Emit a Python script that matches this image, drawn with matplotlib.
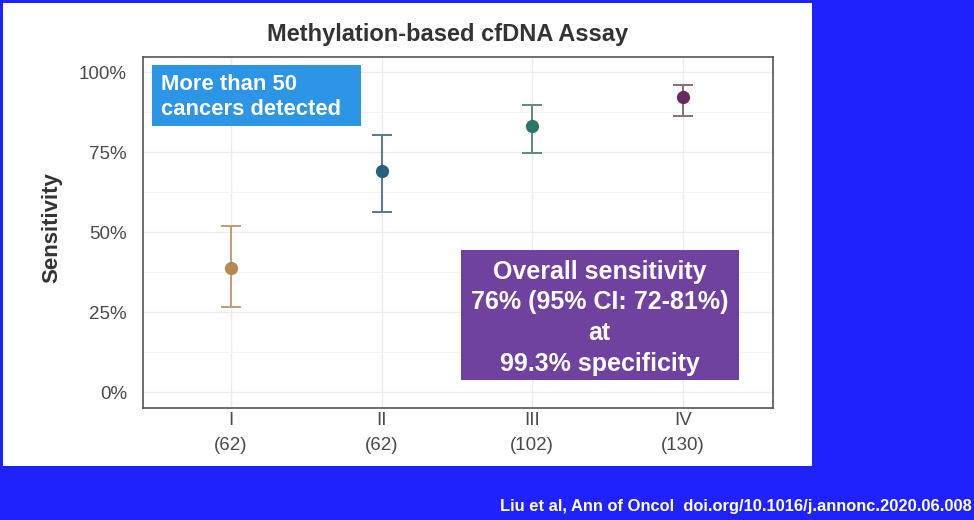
import matplotlib.pyplot as plt
from matplotlib.patches import Rectangle
from matplotlib.ticker import MultipleLocator, FuncFormatter

plt.rcParams['font.family'] = ['Liberation Sans', 'DejaVu Sans']

# stage sensitivity (%) with 95% CI
stages = ['I', 'II', 'III', 'IV']
n_cases = [62, 62, 102, 130]
sensitivity = [38.8, 69.1, 83.1, 92.2]
ci_low = [26.6, 56.3, 74.7, 86.3]
ci_high = [51.9, 80.3, 89.7, 95.9]
point_colors = ['#b5884f', '#27607e', '#28776a', '#672a5f']
bar_colors = ['#c39c74', '#56798c', '#5e8a82', '#866c80']

SLIDE_BLUE = '#1f22fa'


def main():
    fig = plt.figure(figsize=(9.74, 5.2), dpi=100)
    fig.patch.set_facecolor(SLIDE_BLUE)
    # white slide area
    fig.patches.append(Rectangle((3 / 974, 1 - 466 / 520), 809 / 974, 463 / 520,
                                 transform=fig.transFigure, facecolor='white',
                                 edgecolor='none', zorder=-10))

    ax = fig.add_axes([143 / 974, 1 - 408 / 520, 630 / 974, 351 / 520])
    ax.set_facecolor('white')

    x = list(range(1, len(stages) + 1))
    for i in range(len(stages)):
        lo = sensitivity[i] - ci_low[i]
        hi = ci_high[i] - sensitivity[i]
        ax.errorbar(x[i], sensitivity[i], yerr=[[lo], [hi]], fmt='none',
                    ecolor=bar_colors[i], elinewidth=1.4, capsize=7,
                    capthick=1.4, zorder=3)
        ax.plot(x[i], sensitivity[i], 'o', color=point_colors[i],
                markersize=8.5, zorder=4)

    ax.set_xlim(0.415, 4.6)
    ax.set_ylim(-5, 104.7)
    ax.set_xticks(x)
    ax.set_xticklabels(['{}\n({})'.format(s, n) for s, n in zip(stages, n_cases)],
                       linespacing=1.62)
    ax.yaxis.set_major_locator(MultipleLocator(25))
    ax.yaxis.set_minor_locator(MultipleLocator(12.5))
    ax.yaxis.set_major_formatter(FuncFormatter(lambda v, p: '{:d}%'.format(int(v))))
    ax.tick_params(axis='both', which='both', length=0, labelsize=13.5,
                   colors='#4a4a4a', pad=3)
    ax.tick_params(axis='y', pad=11.5)
    ax.grid(which='major', color='#ececec', linewidth=1.0, zorder=0)
    ax.grid(which='minor', axis='y', color='#f3f3f3', linewidth=0.8, zorder=0)
    ax.set_axisbelow(True)
    for sp in ax.spines.values():
        sp.set_color('#555555')
        sp.set_linewidth(1.2)

    # annotation boxes
    ax.add_patch(Rectangle((0.0143, 0.803), 0.332, 0.174, transform=ax.transAxes,
                           facecolor='#2d95e6', edgecolor='none', zorder=5))
    ax.text(0.029, 0.886, 'More than 50\ncancers detected', transform=ax.transAxes,
            ha='left', va='center', color='white', fontsize=15.8,
            fontweight='bold', linespacing=1.28, zorder=6)

    ax.add_patch(Rectangle((0.505, 0.080), 0.441, 0.370, transform=ax.transAxes,
                           facecolor='#7042a0', edgecolor='none', zorder=5))
    ax.text(0.7246, 0.257,
            'Overall sensitivity\n76% (95% CI: 72-81%)\nat\n99.3% specificity',
            transform=ax.transAxes, ha='center', va='center', color='white',
            fontsize=18, fontweight='bold', linespacing=1.35, zorder=6)

    fig.text(448 / 974, 1 - 34 / 520, 'Methylation-based cfDNA Assay',
             ha='center', va='center', fontsize=17, fontweight='bold',
             color='#333333')
    fig.text(52 / 974, 1 - 228 / 520, 'Sensitivity', rotation=90,
             ha='center', va='center', fontsize=16, fontweight='bold',
             color='#333333')
    fig.text(972 / 974, 1 - 507 / 520,
             'Liu et al, Ann of Oncol  doi.org/10.1016/j.annonc.2020.06.008',
             ha='right', va='center', fontsize=11.9, fontweight='bold',
             color='white')

    fig.savefig('out.png', dpi=100, facecolor=fig.get_facecolor())


if __name__ == '__main__':
    main()
